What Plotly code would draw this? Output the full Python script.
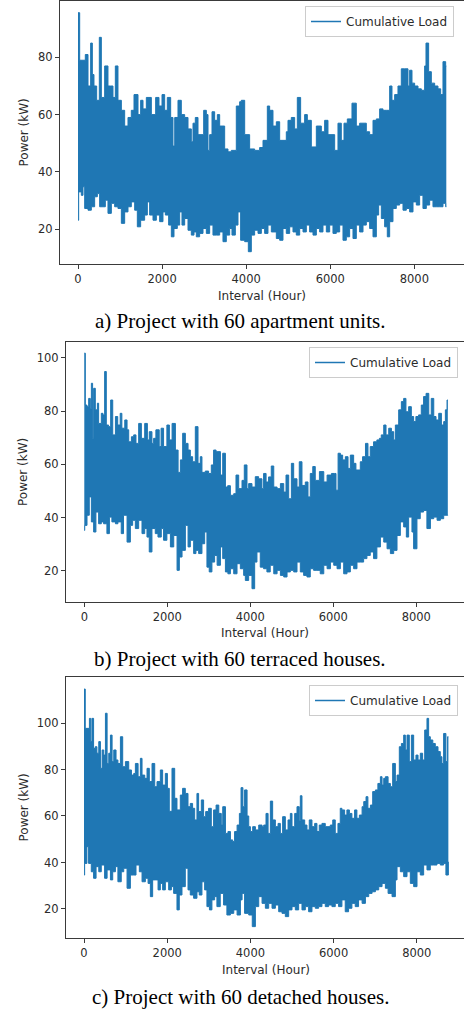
import plotly.graph_objects as go

W, H = 464, 1010
LINE_BLUE = "#1f77b4"
AXIS_GREY = "#3a3a3a"
TEXT_GREY = "#2b2b2b"

SERIES_NAME = "Cumulative Load"
X_LABEL = "Interval (Hour)"
Y_LABEL = "Power (kW)"
CAPTIONS = [
    "a) Project with 60 apartment units.",
    "b) Project with 60 terraced houses.",
    "c) Project with 60 detached houses.",
]

# Hourly load envelopes (hour, kW): daily peaks along the top edge, daily
# troughs along the bottom edge of the 8760-hour cumulative load profile.
A_UPPER = [(0, 95.6), (40, 79), (119, 79), (174, 81), (238, 70), (301, 85), (341, 74), (380, 70), (444, 65),
           (507, 87), (555, 66), (634, 77), (713, 70), (777, 70), (832, 66), (888, 77), (951, 65), (1031, 61.5),
           (1110, 56), (1189, 59), (1268, 61.5), (1332, 67), (1427, 60), (1490, 65), (1546, 62), (1625, 66),
           (1744, 60), (1847, 66), (1926, 63), (1998, 67), (2061, 61.5), (2124, 66), (2204, 59), (2259, 49),
           (2300, 59), (2378, 65), (2457, 60), (2537, 59), (2616, 55), (2695, 50.5), (2735, 57), (2790, 59),
           (2854, 53), (2989, 61.5), (3052, 60), (3092, 47.5), (3131, 53), (3187, 61), (3250, 58), (3314, 60),
           (3369, 56), (3488, 48), (3567, 47), (3646, 47.5), (3765, 63), (3845, 64.5), (3884, 65), (3964, 53),
           (4082, 48), (4201, 47.5), (4320, 48.5), (4400, 51), (4503, 63), (4558, 61.5), (4637, 56), (4717, 57.5),
           (4796, 51), (4954, 54), (4994, 58), (5073, 59), (5153, 55), (5216, 66), (5295, 57), (5390, 60),
           (5454, 58), (5549, 48.7), (5668, 56), (5787, 54), (5866, 58), (5945, 53), (6104, 47.5), (6183, 57),
           (6262, 51), (6326, 57), (6405, 58.5), (6516, 64), (6619, 56), (6698, 57), (6778, 57), (6857, 54),
           (6936, 53), (7016, 58), (7095, 58.5), (7174, 62), (7253, 61.5), (7333, 61.5), (7412, 70), (7467, 65),
           (7531, 67), (7610, 70), (7689, 76), (7768, 76), (7848, 70), (7887, 75.5), (7943, 71), (8006, 70),
           (8086, 69), (8165, 68.5), (8244, 77), (8276, 85), (8339, 75), (8403, 71), (8482, 70), (8561, 69),
           (8625, 67), (8680, 78.5), (8744, 77), (8759, 77)]
A_LOWER = [(0, 23.1), (16, 33), (79, 31.8), (119, 34.8), (159, 27.2), (238, 26.6), (317, 27.8), (396, 31.3),
           (460, 32.4), (515, 27.8), (595, 27.8), (650, 30.1), (713, 25.5), (793, 29), (872, 27.8), (951, 27.2),
           (1031, 22), (1110, 26), (1189, 27.8), (1268, 29.5), (1348, 26.6), (1411, 20.8), (1490, 23.1),
           (1585, 24.9), (1649, 29.5), (1704, 24.9), (1784, 23.1), (1863, 24.9), (1942, 22.6), (2021, 26),
           (2077, 24.9), (2156, 21.4), (2220, 17.3), (2283, 20.2), (2362, 21.4), (2418, 26), (2473, 21.4),
           (2537, 23.7), (2616, 19.6), (2695, 17.9), (2759, 19), (2814, 17.3), (2893, 18.5), (2973, 20.2),
           (3052, 18.5), (3131, 21.4), (3210, 17.9), (3290, 17.9), (3369, 19), (3448, 15.6), (3527, 17.9),
           (3607, 20.2), (3662, 17.9), (3742, 21.4), (3805, 26), (3868, 16.1), (3964, 15.6), (4051, 12.1),
           (4122, 17.9), (4201, 19.6), (4281, 18.5), (4360, 20.2), (4439, 18.5), (4518, 21.4), (4598, 19),
           (4717, 16.7), (4796, 16.1), (4875, 20.2), (4954, 18.5), (5034, 20.8), (5113, 19), (5192, 17.9),
           (5272, 20.2), (5351, 19), (5430, 21.4), (5509, 19), (5589, 17.9), (5668, 20.2), (5747, 19),
           (5826, 21.4), (5906, 19), (5985, 21.4), (6064, 18.5), (6143, 19), (6223, 21.4), (6302, 16.1),
           (6381, 17.3), (6460, 20.2), (6540, 16.7), (6619, 21.4), (6698, 19), (6778, 21.4), (6857, 22.6),
           (6936, 20.2), (7016, 17.3), (7095, 24.9), (7150, 28.4), (7214, 23.7), (7293, 20.8), (7356, 17.3),
           (7412, 22.6), (7491, 27.2), (7570, 28.4), (7650, 29), (7729, 26.6), (7808, 27.2), (7887, 26),
           (7967, 29.5), (8046, 28.4), (8125, 31.8), (8204, 27.2), (8284, 28.4), (8363, 30.1), (8442, 27.8),
           (8522, 27.8), (8601, 27.8), (8680, 29), (8744, 27.8), (8759, 27.8)]

B_UPPER = [(0, 101.8), (25, 82.3), (65, 81.7), (105, 84.8), (145, 81), (170, 90.5), (200, 69.8), (225, 88.6),
           (265, 80.5), (315, 83), (345, 75.4), (410, 79.2), (450, 78.6), (490, 94.9), (530, 74.8), (585, 74.2),
           (635, 84.2), (685, 71.1), (750, 78), (805, 74.8), (865, 79.2), (905, 73.6), (975, 76.7), (1030, 73),
           (1070, 68.5), (1135, 70.4), (1190, 71.1), (1245, 67.9), (1310, 75.4), (1375, 69.8), (1455, 75.4),
           (1520, 69.2), (1565, 72.3), (1630, 67.9), (1670, 69.8), (1725, 73), (1805, 66.7), (1850, 73.6),
           (1910, 66.7), (1990, 74.8), (2050, 69.2), (2115, 75.4), (2195, 65.4), (2260, 57), (2315, 61.7),
           (2370, 71.7), (2435, 67.9), (2500, 65.4), (2555, 62.9), (2610, 61), (2675, 74.2), (2740, 60.4),
           (2795, 62.9), (2835, 57), (2915, 57.5), (2995, 56.6), (3060, 59.8), (3115, 65.4), (3175, 64.8),
           (3220, 64.8), (3280, 56), (3335, 64.2), (3400, 51.5), (3455, 52), (3520, 48.4), (3600, 49), (3655, 56),
           (3720, 50.9), (3800, 54), (3855, 59.8), (3920, 50.9), (3960, 52.8), (4040, 51.5), (4120, 55.4),
           (4200, 54.6), (4280, 50.9), (4320, 56.6), (4380, 53.4), (4440, 55.3), (4505, 59.4), (4565, 51.5),
           (4645, 50.9), (4725, 52.8), (4805, 49.6), (4860, 56), (4925, 47.1), (4990, 60.4), (5045, 54.6),
           (5125, 51.5), (5180, 61), (5245, 52.1), (5325, 53.4), (5390, 47.8), (5445, 56.6), (5505, 59.2),
           (5565, 54), (5665, 57.3), (5770, 53.4), (5850, 56), (5955, 56.6), (6035, 56.6), (6065, 50.3),
           (6115, 64.2), (6170, 63.5), (6225, 61.7), (6290, 62.9), (6355, 58.5), (6410, 63.5), (6490, 60.4),
           (6545, 57.9), (6650, 61), (6705, 62.9), (6775, 67.9), (6835, 62.9), (6890, 66.7), (6970, 68.5),
           (7050, 69.2), (7110, 69.8), (7155, 71.1), (7215, 74.8), (7270, 71.1), (7335, 73.6), (7400, 72.3),
           (7455, 69.2), (7495, 74.8), (7575, 80.5), (7640, 83.6), (7695, 84.8), (7750, 79.8), (7815, 81.7),
           (7880, 78), (7935, 76.1), (7990, 78), (8055, 78.6), (8120, 82.3), (8175, 85.5), (8235, 86.7),
           (8300, 78.6), (8360, 84.8), (8420, 78), (8475, 76.7), (8540, 79.2), (8605, 74.8), (8660, 76.1),
           (8700, 80.5), (8740, 84.2), (8759, 84.2)]
B_LOWER = [(0, 35.2), (10, 37.1), (65, 40.9), (120, 47.8), (170, 38.4), (225, 34.6), (280, 42.1), (345, 37.7),
           (410, 38.4), (465, 37.7), (545, 34), (605, 40.2), (665, 38.4), (750, 37.7), (810, 38.4), (890, 34),
           (945, 40.9), (1030, 30.8), (1110, 37.1), (1165, 39), (1230, 35.9), (1310, 39), (1390, 34),
           (1455, 35.9), (1510, 32.7), (1565, 27.1), (1630, 35.9), (1710, 34), (1775, 32.7), (1855, 35.9),
           (1910, 31.5), (1990, 34), (2075, 29), (2155, 33.3), (2235, 20.2), (2290, 25.2), (2355, 27.7),
           (2435, 37.1), (2500, 29), (2555, 31.5), (2635, 26.5), (2690, 27.7), (2755, 26.5), (2835, 30.2),
           (2900, 34.6), (2955, 21.4), (3010, 19.6), (3075, 23.3), (3140, 25.8), (3200, 22.1), (3280, 29),
           (3335, 24.6), (3400, 19.6), (3460, 18.9), (3520, 20.8), (3600, 18.9), (3680, 22.7), (3760, 20.8),
           (3840, 18.3), (3880, 16.4), (3960, 18.3), (4040, 13.3), (4105, 23.3), (4160, 27.1), (4240, 21.4),
           (4320, 20.8), (4400, 19.6), (4480, 22.1), (4565, 18.9), (4645, 20.2), (4725, 18.3), (4805, 17.7),
           (4885, 19.6), (4965, 20.2), (5045, 19.6), (5125, 23.3), (5205, 19.6), (5285, 18.3), (5365, 17.7),
           (5445, 20.8), (5525, 20.2), (5605, 20.2), (5685, 18.9), (5770, 22.1), (5850, 20.8), (5930, 23.3),
           (6010, 22.1), (6090, 20.8), (6170, 23.3), (6250, 18.9), (6330, 19.6), (6410, 22.1), (6490, 20.8),
           (6570, 23.3), (6650, 23.3), (6730, 24.6), (6810, 25.8), (6890, 27.1), (6970, 24.6), (7050, 29),
           (7135, 32.7), (7215, 30.8), (7295, 28.3), (7375, 26.5), (7455, 27.7), (7535, 33.3), (7615, 38.4),
           (7695, 36.5), (7760, 32.7), (7815, 40.2), (7895, 34.6), (7935, 28.3), (8015, 39.6), (8095, 42.1),
           (8175, 42.7), (8255, 35.9), (8340, 39.6), (8420, 40.2), (8500, 39), (8580, 39.6), (8660, 40.9),
           (8715, 40.9), (8759, 41)]

C_UPPER = [(0, 114.6), (30, 97.7), (95, 97.7), (130, 102), (160, 92), (190, 102), (230, 89.1), (270, 89.8),
           (310, 87), (355, 92), (395, 80.5), (435, 88.4), (475, 86.2), (515, 104.2), (555, 82.6), (595, 87),
           (635, 94.8), (675, 83.4), (715, 88.4), (770, 84.1), (815, 82.6), (875, 94.1), (930, 81.2), (995, 83.4),
           (1075, 79.8), (1140, 77.6), (1195, 78.3), (1235, 82.6), (1300, 76.9), (1355, 84.8), (1395, 77.6),
           (1460, 76.2), (1515, 80.5), (1570, 74.8), (1635, 82.6), (1700, 72.6), (1755, 74.8), (1835, 79.8),
           (1890, 73.3), (1955, 78.3), (2005, 71.9), (2050, 62), (2115, 80.5), (2180, 67.6), (2235, 62.6),
           (2315, 69), (2370, 71.9), (2435, 69.7), (2500, 64), (2555, 65.4), (2610, 63.3), (2660, 58.3),
           (2715, 69.7), (2755, 61.9), (2820, 66.9), (2875, 59.7), (2925, 61.9), (2995, 63.3), (3060, 55.4),
           (3115, 62.6), (3175, 64.7), (3240, 61.1), (3300, 56.1), (3335, 64), (3400, 52.5), (3460, 53.3),
           (3520, 49.7), (3575, 49), (3620, 53.3), (3680, 56.1), (3735, 61.1), (3775, 72.2), (3820, 64),
           (3860, 71.2), (3920, 60), (3960, 55.4), (4000, 53.3), (4055, 55.4), (4120, 54), (4200, 56.1),
           (4280, 55.4), (4320, 56.1), (4375, 61.1), (4425, 52.5), (4480, 66.4), (4535, 58.3), (4600, 55.4),
           (4665, 56.8), (4720, 52.5), (4775, 59.7), (4840, 54), (4905, 58.3), (4960, 61.1), (5000, 55.4),
           (5065, 61.1), (5120, 64), (5175, 58), (5200, 68.7), (5240, 58.3), (5305, 56.1), (5360, 54),
           (5415, 58.3), (5480, 55.4), (5545, 56.8), (5600, 53.3), (5655, 56.1), (5720, 56.8), (5800, 55.4),
           (5865, 55.4), (5920, 56.1), (5980, 58.3), (6040, 52.5), (6105, 56.8), (6160, 63.3), (6200, 62.6),
           (6265, 60.4), (6320, 62.6), (6380, 61.1), (6440, 59), (6505, 62.6), (6560, 59), (6620, 60.4),
           (6685, 64), (6725, 66.2), (6780, 68.3), (6825, 63.3), (6885, 64.7), (6940, 70.5), (7005, 71.2),
           (7065, 74), (7125, 76.9), (7165, 73.3), (7205, 76.2), (7245, 76.9), (7310, 74), (7365, 72.6),
           (7420, 82.6), (7485, 74.8), (7525, 77.6), (7580, 89.8), (7630, 91.2), (7685, 94.8), (7725, 88.4),
           (7765, 94.8), (7820, 83.4), (7870, 94.8), (7925, 84.1), (7980, 86.2), (8030, 84.1), (8085, 87),
           (8140, 84.1), (8190, 97), (8245, 102), (8285, 94.1), (8325, 92.7), (8385, 91.2), (8445, 89.8),
           (8510, 87.7), (8565, 85.5), (8605, 82.6), (8645, 95.5), (8700, 83.4), (8740, 94.1), (8759, 94.1)]
C_LOWER = [(0, 34.6), (15, 39.6), (70, 46.8), (110, 39.6), (175, 36), (230, 33.2), (290, 38.2), (355, 36),
           (415, 38.9), (495, 33.2), (555, 36.8), (635, 32.5), (690, 36), (755, 38.2), (815, 31.7), (895, 36),
           (955, 37.5), (1035, 28.9), (1115, 34.6), (1195, 34.6), (1250, 38.9), (1330, 36), (1395, 31.7),
           (1475, 33.2), (1540, 31), (1595, 25.3), (1650, 32.5), (1715, 32.5), (1780, 28.2), (1835, 31),
           (1890, 28.2), (1955, 31.7), (2035, 28.2), (2100, 29.6), (2155, 26.7), (2235, 19.6), (2290, 26),
           (2355, 29.6), (2435, 37.5), (2500, 28.2), (2555, 26), (2635, 24.6), (2715, 27.4), (2770, 26),
           (2835, 31.7), (2900, 28.2), (2955, 21), (3015, 19.6), (3075, 23.9), (3140, 25.3), (3195, 21),
           (3275, 26.7), (3355, 21.7), (3435, 17.4), (3520, 18.1), (3600, 19.6), (3680, 17.4), (3760, 23.9),
           (3800, 26.7), (3860, 18.1), (3960, 17.4), (4045, 12.4), (4120, 21), (4200, 25.3), (4280, 22.4),
           (4360, 20.3), (4440, 22.4), (4520, 20.3), (4600, 21.7), (4680, 18.8), (4760, 18.1), (4840, 16.7),
           (4920, 19.6), (5000, 21), (5080, 19.6), (5160, 22.4), (5240, 19.6), (5320, 21), (5400, 18.8),
           (5480, 21), (5560, 20.3), (5640, 21), (5720, 22.4), (5800, 21), (5880, 21.7), (5960, 21),
           (6040, 22.4), (6120, 21), (6200, 23.9), (6280, 18.8), (6360, 20.3), (6440, 22.4), (6520, 21),
           (6600, 23.9), (6685, 22.4), (6765, 25.3), (6845, 26.7), (6925, 27.4), (7005, 28.2), (7085, 29.6),
           (7165, 31), (7245, 28.9), (7310, 26.7), (7405, 25.3), (7485, 32.5), (7525, 38.2), (7605, 36),
           (7685, 33.9), (7765, 36), (7845, 31), (7925, 29.6), (8005, 36), (8085, 34.6), (8165, 38.9),
           (8245, 36.8), (8325, 38.9), (8405, 38.9), (8485, 39.6), (8565, 38.9), (8645, 39.6), (8700, 34.6),
           (8759, 40.3)]

SERIES = [(A_UPPER, A_LOWER), (B_UPPER, B_LOWER), (C_UPPER, C_LOWER)]

# Pixel placement of each axes box and its surrounding labels.
FRAMES = [
    dict(left=60, top=1, bottom=264, xr=(-428, 9180), yr=(7.8, 99.7),
         xt=(262, 296), cap_y=320.5, leg=(454, 6)),
    dict(left=66, top=342, bottom=602, xr=(-441, 9149), yr=(8.3, 106.0),
         xt=(265, 633), cap_y=659, leg=(458, 347)),
    dict(left=66, top=677, bottom=938, xr=(-433, 9135), yr=(7.5, 119.8),
         xt=(265.5, 970), cap_y=997, leg=(458, 685)),
]

TICK_FONT = dict(family="DejaVu Sans", size=11.5, color=TEXT_GREY)
LABEL_FONT = dict(family="DejaVu Sans", size=12, color=TEXT_GREY)
CAPTION_FONT = dict(family="Liberation Serif, Times New Roman, serif", size=21, color="#000000")

fig = go.Figure()
annotations = []
layout = {}

for i, ((upper, lower), fr) in enumerate(zip(SERIES, FRAMES)):
    n = "" if i == 0 else str(i + 1)
    xa, ya = "x" + n, "y" + n
    legend_id = "legend" + n

    lo_x = [h for h, _ in lower]
    lo_y = [v for _, v in lower]
    up_x = [h for h, _ in upper]
    up_y = [v for _, v in upper]

    fig.add_trace(go.Scatter(
        x=lo_x, y=lo_y, mode="lines", line=dict(color=LINE_BLUE, width=1, shape="hv"),
        showlegend=False, hoverinfo="skip", xaxis=xa, yaxis=ya))
    fig.add_trace(go.Scatter(
        x=up_x, y=up_y, mode="lines", line=dict(color=LINE_BLUE, width=1, shape="hv"),
        fill="tonexty", fillcolor=LINE_BLUE, showlegend=False, hoverinfo="skip",
        xaxis=xa, yaxis=ya))
    fig.add_trace(go.Scatter(
        x=[None], y=[None], mode="lines", name=SERIES_NAME,
        line=dict(color=LINE_BLUE, width=1.5), showlegend=True, legend=legend_id,
        xaxis=xa, yaxis=ya))

    layout["xaxis" + n] = dict(
        domain=[fr["left"] / W, 1.0], range=list(fr["xr"]), anchor=ya,
        tickvals=[0, 2000, 4000, 6000, 8000], ticks="outside", ticklen=4, tickwidth=1,
        tickcolor=AXIS_GREY, showline=True, linecolor=AXIS_GREY, linewidth=1, mirror=True,
        showgrid=False, zeroline=False, tickfont=TICK_FONT)
    layout["yaxis" + n] = dict(
        domain=[1 - fr["bottom"] / H, 1 - fr["top"] / H], range=list(fr["yr"]), anchor=xa,
        dtick=20, tick0=0, ticks="outside", ticklen=4, tickwidth=1, tickcolor=AXIS_GREY,
        showline=True, linecolor=AXIS_GREY, linewidth=1, showgrid=False, zeroline=False,
        tickfont=TICK_FONT)
    layout[legend_id] = dict(
        x=fr["leg"][0] / W, y=1 - fr["leg"][1] / H, xanchor="right", yanchor="top",
        bgcolor="rgba(255,255,255,0.8)", bordercolor="#cccccc", borderwidth=1,
        font=LABEL_FONT, itemwidth=30, tracegroupgap=0)

    annotations.append(dict(
        text=X_LABEL, x=fr["xt"][0] / W, y=1 - fr["xt"][1] / H, xref="paper", yref="paper",
        showarrow=False, xanchor="center", yanchor="middle", font=LABEL_FONT))
    annotations.append(dict(
        text=Y_LABEL, x=23 / W, y=1 - (fr["top"] + fr["bottom"]) / 2 / H, xref="paper", yref="paper",
        showarrow=False, xanchor="center", yanchor="middle", textangle=-90, font=LABEL_FONT))
    annotations.append(dict(
        text=CAPTIONS[i], x=240.5 / W, y=1 - fr["cap_y"] / H, xref="paper", yref="paper",
        showarrow=False, xanchor="center", yanchor="middle", font=CAPTION_FONT))

fig.update_layout(
    width=W, height=H, margin=dict(l=0, r=0, t=0, b=0),
    paper_bgcolor="white", plot_bgcolor="white",
    annotations=annotations, **layout)

fig.write_html("out.html", config={"displayModeBar": False})
